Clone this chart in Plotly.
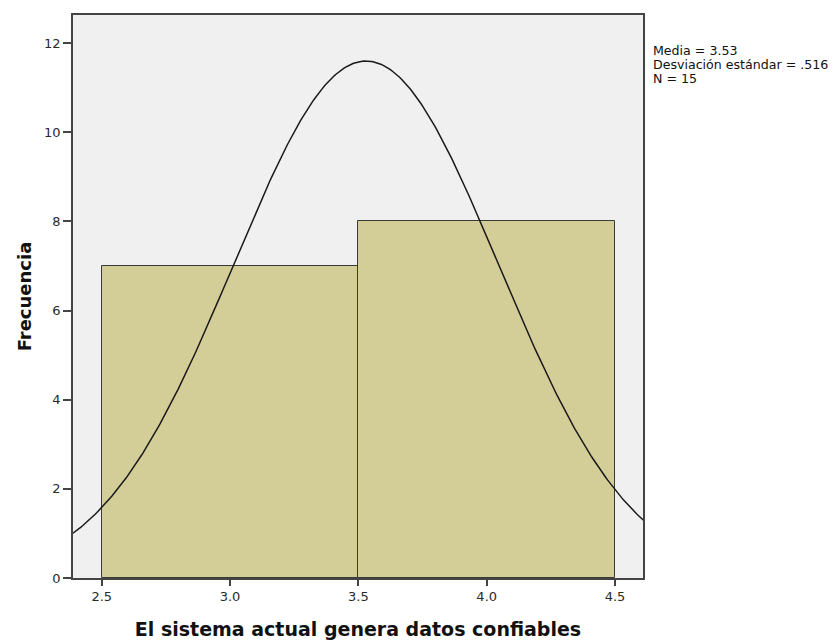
import numpy as np
import plotly.graph_objects as go

# Data
bin_centers = [3.0, 4.0]
bin_counts = [7, 8]
bin_width = 1.0
media = 3.53
desv = 0.516
n_total = 15
x_ticks = [2.5, 3.0, 3.5, 4.0, 4.5]
x_tick_labels = ["2.5", "3.0", "3.5", "4.0", "4.5"]
y_ticks = [0, 2, 4, 6, 8, 10, 12]
stats_lines = [f"Media = {media:.2f}", "Desviación estándar = .516", f"N = {n_total}"]

# Fitted normal curve (from the stated mean, sd and N)
xc = np.linspace(2.3, 4.7, 400)
yc = n_total * bin_width / (desv * np.sqrt(2 * np.pi)) * np.exp(-0.5 * ((xc - media) / desv) ** 2)

fig = go.Figure()
fig.add_trace(go.Bar(
    x=bin_centers, y=bin_counts, width=[bin_width] * len(bin_centers),
    marker=dict(color="#D3CE98", line=dict(color="#3a3a3a", width=1)),
    hoverinfo="skip", showlegend=False,
))
fig.add_trace(go.Scatter(
    x=xc, y=yc, mode="lines", line=dict(color="#1a1a1a", width=1.5),
    hoverinfo="skip", showlegend=False, cliponaxis=True,
))

font_family = "DejaVu Sans, Verdana, sans-serif"
ann_y = [0.937, 0.912, 0.887]
annotations = [
    dict(xref="paper", yref="paper", x=1.0, y=yy, xanchor="left", yanchor="middle",
         xshift=8, align="left", showarrow=False, text=t,
         font=dict(size=12.6, color="#111111", family=font_family))
    for t, yy in zip(stats_lines, ann_y)
]

fig.update_layout(
    width=840, height=642,
    margin=dict(l=65, r=205, t=5, b=72),
    paper_bgcolor="white", plot_bgcolor="#F0F0F0",
    bargap=0,
    font=dict(family=font_family, size=13, color="#333333"),
    xaxis=dict(
        range=[2.388, 4.609], tickvals=x_ticks, ticktext=x_tick_labels,
        showgrid=False, zeroline=False, showline=True, mirror=True,
        linecolor="#444444", linewidth=1.5,
        ticks="outside", ticklen=6, tickwidth=1.5, tickcolor="#444444",
        tickfont=dict(size=13, color="#2a2a2a"),
        title=dict(text="<b>El sistema actual genera datos confiables</b>",
                   font=dict(size=19, color="#111111"), standoff=19),
    ),
    yaxis=dict(
        range=[0, 12.63], tickvals=y_ticks,
        showgrid=False, zeroline=False, showline=True, mirror=True,
        linecolor="#444444", linewidth=1.5,
        ticks="outside", ticklen=8, tickwidth=1.5, tickcolor="#444444",
        tickfont=dict(size=13, color="#2a2a2a"),
        title=dict(text="<b>Frecuencia</b>", font=dict(size=18, color="#111111"), standoff=8),
    ),
    annotations=annotations,
)

fig.write_html("out.html")
